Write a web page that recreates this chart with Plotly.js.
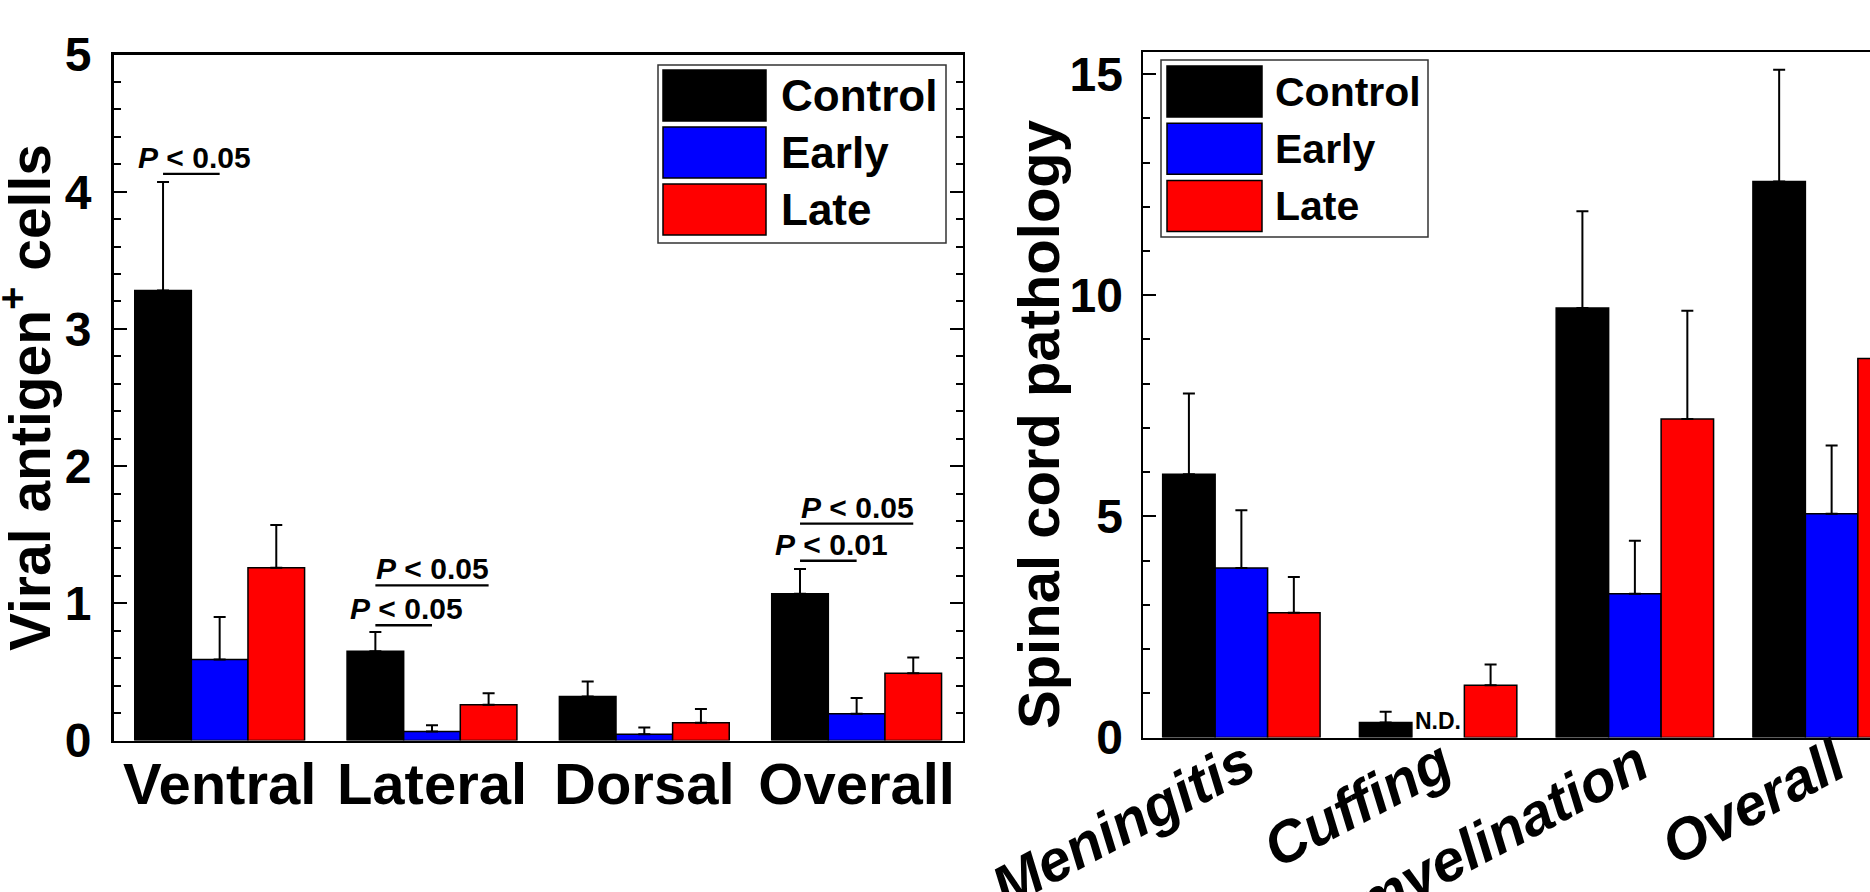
<!DOCTYPE html>
<html>
<head>
<meta charset="utf-8">
<script src="https://cdn.plot.ly/plotly-3.0.1.min.js"></script>
<style>
  html, body { margin: 0; padding: 0; overflow: hidden; background: #ffffff; }
  #chart { width: 1960px; height: 892px; }
</style>
</head>
<body>
<div id="chart"></div>
<script>
// ---------- DATA ----------
const seriesNames  = ['Control', 'Early', 'Late'];
const seriesColors = ['#000000', '#0000ff', '#ff0000'];

// Panel A: viral antigen+ cells
const categoriesA = ['Ventral', 'Lateral', 'Dorsal', 'Overall'];
const controlA    = [3.28, 0.65, 0.32, 1.07];
const controlErrA = [0.79, 0.14, 0.11, 0.18];
const earlyA      = [0.59, 0.065, 0.045, 0.195];
const earlyErrA   = [0.31, 0.047, 0.05, 0.115];
const lateA       = [1.26, 0.26, 0.13, 0.49];
const lateErrA    = [0.31, 0.085, 0.10, 0.115];

// Panel B: spinal cord pathology (Early cuffing not detected)
const categoriesB = ['Meningitis', 'Cuffing', 'Demyelination', 'Overall'];
const controlB    = [5.95, 0.34, 9.71, 12.57];
const controlErrB = [1.83, 0.24, 2.19, 2.53];
const earlyB      = [3.83, null, 3.25, 5.06];
const earlyErrB   = [1.31, null, 1.20, 1.54];
const lateB       = [2.82, 1.18, 7.20, 8.57];
const lateErrB    = [0.81, 0.47, 2.45, 1.90];
const notDetectedLabel = 'N.D.';

// Significance comparisons (panel A)
const sigCategory = ['Ventral', 'Lateral', 'Lateral', 'Overall', 'Overall'];
const sigFrom     = ['Control', 'Control', 'Control', 'Control', 'Control'];
const sigTo       = ['Early', 'Early', 'Late', 'Early', 'Late'];
const sigLevel    = [4.13, 0.84, 1.13, 1.31, 1.58];
const sigLabel    = ['P < 0.05', 'P < 0.05', 'P < 0.05', 'P < 0.01', 'P < 0.05'];

const titleA = 'Viral antigen<sup>+</sup> cells';
const titleB = 'Spinal cord pathology';

// ---------- LAYOUT GEOMETRY ----------
const W = 1960, H = 892;
const FONT = 'Liberation Sans, Arial, Helvetica, sans-serif';
const BARGAP = 0.2;
const px = v => v / W;
const py = v => 1 - v / H;

const panelA = { left: 113.5, right: 962.8, top: 54.5, bottom: 740.5 };
const panelB = { left: 1143, right: 1930, top: 52, bottom: 737.5 };

function barTrace(name, color, x, y, err, xa, ya) {
  return {
    type: 'bar', name: name, x: x, y: y,
    xaxis: xa, yaxis: ya,
    marker: { color: color, line: { color: '#000000', width: 1.5 } },
    error_y: {
      type: 'data', array: err, symmetric: false,
      arrayminus: err.map(() => 0),
      color: '#000000', thickness: 2, width: 6
    },
    showlegend: false, hoverinfo: 'x+y+name'
  };
}

const valsA = [controlA, earlyA, lateA];
const errsA = [controlErrA, earlyErrA, lateErrA];
const valsB = [controlB, earlyB, lateB];
const errsB = [controlErrB, earlyErrB, lateErrB];

const traces = [];
seriesNames.forEach((n, i) => traces.push(barTrace(n, seriesColors[i], categoriesA, valsA[i], errsA[i], 'x', 'y')));
seriesNames.forEach((n, i) => traces.push(barTrace(n, seriesColors[i], categoriesB, valsB[i], errsB[i], 'x2', 'y2')));

// ---------- AXES ----------
const lineStyle = { showline: true, linecolor: '#000000', linewidth: 2.5, showgrid: false, zeroline: false };

function yAxis(panel, range, dtick, minorDtick, anchor, standoff) {
  return Object.assign({}, lineStyle, {
    domain: [py(panel.bottom), py(panel.top)], anchor: anchor,
    range: range, dtick: dtick, tick0: 0,
    ticks: 'inside', ticklen: 13, tickwidth: 2, tickcolor: '#000000',
    mirror: 'ticks',
    minor: { ticks: 'inside', ticklen: 7, tickwidth: 2, tickcolor: '#000000', dtick: minorDtick, showgrid: false },
    tickfont: { family: FONT, size: 48, color: '#000000', weight: 'bold' },
    ticklabelstandoff: standoff, fixedrange: true
  });
}

const layout = {
  width: W, height: H,
  margin: { l: 0, r: 0, t: 0, b: 0, pad: 0 },
  paper_bgcolor: '#ffffff', plot_bgcolor: '#ffffff',
  barmode: 'group', bargap: BARGAP, bargroupgap: 0,
  showlegend: false,
  xaxis: Object.assign({}, lineStyle, {
    domain: [px(panelA.left), px(panelA.right)], anchor: 'y',
    type: 'category', range: [-0.5, categoriesA.length - 0.5],
    ticks: '', mirror: true,
    tickfont: { family: FONT, size: 58, color: '#000000', weight: 'bold' },
    ticklabelstandoff: -9, fixedrange: true
  }),
  yaxis: yAxis(panelA, [0, 5], 1, 0.2, 'x', 10),
  xaxis2: Object.assign({}, lineStyle, {
    domain: [px(panelB.left), px(panelB.right)], anchor: 'y2',
    type: 'category', range: [-0.5, categoriesB.length - 0.5],
    ticks: '', mirror: true, tickangle: -28,
    tickfont: { family: FONT, size: 58, color: '#000000', weight: 'bold', style: 'italic' },
    ticklabelstandoff: -32, ticklabelshift: 4, fixedrange: true
  }),
  yaxis2: yAxis(panelB, [0, 15.5], 5, 1, 'x2', 8),
  shapes: [],
  annotations: []
};

// ---------- Y TITLES ----------
layout.annotations.push({
  xref: 'paper', yref: 'paper', x: px(26), y: py(398),
  xanchor: 'center', yanchor: 'middle', textangle: -90, showarrow: false,
  text: titleA, font: { family: FONT, size: 57, color: '#000000', weight: 'bold' }
});
layout.annotations.push({
  xref: 'paper', yref: 'paper', x: px(1038), y: py(425),
  xanchor: 'center', yanchor: 'middle', textangle: -90, showarrow: false,
  text: titleB, font: { family: FONT, size: 58, color: '#000000', weight: 'bold' }
});

// ---------- SIGNIFICANCE BRACKETS ----------
const barStep = (1 - BARGAP) / seriesNames.length;
const barOffset = name => (seriesNames.indexOf(name) - (seriesNames.length - 1) / 2) * barStep;
sigCategory.forEach((cat, i) => {
  const c = categoriesA.indexOf(cat);
  const x0 = c + barOffset(sigFrom[i]);
  const x1 = c + barOffset(sigTo[i]);
  layout.shapes.push({
    type: 'line', xref: 'x', yref: 'y', x0: x0, x1: x1, y0: sigLevel[i], y1: sigLevel[i],
    line: { color: '#000000', width: 2.3 }
  });
  const txt = sigLabel[i].replace('<', '&lt;').replace(/^P/, '<i>P</i>');
  layout.annotations.push({
    xref: 'x', yref: 'y', x: x0, y: sigLevel[i],
    xanchor: 'left', yanchor: 'bottom', showarrow: false,
    xshift: sigTo[i] === 'Early' ? -27 : -1, yshift: -2,
    text: txt, font: { family: FONT, size: 30, color: '#000000', weight: 'bold' }
  });
});

// ---------- N.D. MARKER ----------
earlyB.forEach((v, i) => {
  if (v === null) {
    layout.annotations.push({
      xref: 'x2', yref: 'y2', x: categoriesB[i], y: 0,
      xanchor: 'center', yanchor: 'bottom', showarrow: false, yshift: 2,
      text: notDetectedLabel, font: { family: FONT, size: 23, color: '#000000', weight: 'bold' }
    });
  }
});

// ---------- LEGENDS (large swatches) ----------
function addLegend(g) {
  layout.shapes.push({
    type: 'rect', xref: 'paper', yref: 'paper',
    x0: px(g.left), x1: px(g.left + g.width), y0: py(g.top + g.height), y1: py(g.top),
    line: { color: '#333333', width: 1.5 }, fillcolor: '#ffffff', layer: 'above'
  });
  seriesNames.forEach((name, i) => {
    const top = g.top + g.pad + i * g.rowH;
    layout.shapes.push({
      type: 'rect', xref: 'paper', yref: 'paper',
      x0: px(g.left + g.pad), x1: px(g.left + g.pad + g.swW),
      y0: py(top + g.swH), y1: py(top),
      line: { color: '#000000', width: 1.5 }, fillcolor: seriesColors[i], layer: 'above'
    });
    layout.annotations.push({
      xref: 'paper', yref: 'paper', x: px(g.left + g.pad + g.swW + g.textGap), y: py(top + g.swH / 2),
      xanchor: 'left', yanchor: 'middle', showarrow: false,
      text: name, font: { family: FONT, size: g.fontSize, color: '#000000', weight: 'bold' }
    });
  });
}
addLegend({ left: 658, top: 65, width: 288, height: 178, pad: 5, swW: 103, swH: 51, rowH: 57, textGap: 13, fontSize: 44 });
addLegend({ left: 1161, top: 60, width: 267, height: 177, pad: 6, swW: 95, swH: 51, rowH: 57.3, textGap: 11, fontSize: 41 });

Plotly.newPlot('chart', traces, layout, { displayModeBar: false, staticPlot: true });
</script>
</body>
</html>
